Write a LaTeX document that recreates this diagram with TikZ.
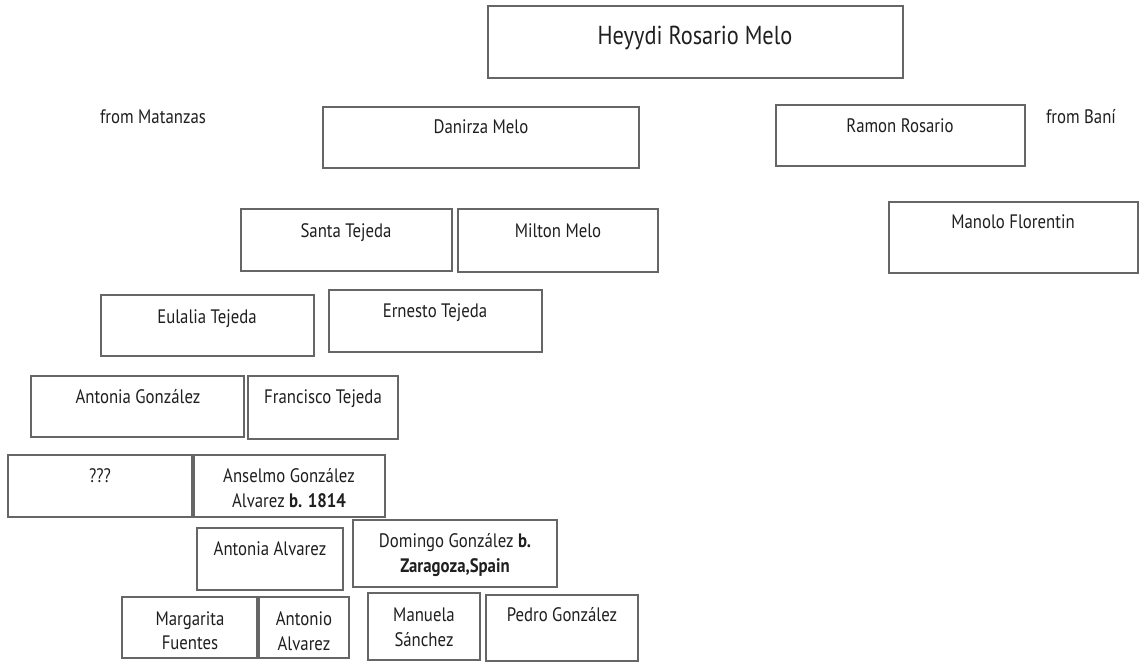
\documentclass[tikz,border=0pt]{standalone}
\usepackage{fontspec}
\setmainfont{PT Sans}[FakeStretch=0.86]
\usetikzlibrary{fit}

% pbox{name}{x1}{y1}{x2}{y2}: a framed family-tree box between two corners (pixel units)
\newcommand\pbox[5]{%
  \node[personbox, fit={(#2,#3)(#4,#5)}] (#1) {};}
% plabel{name}{x}{baseline}{text}: a line of text inside a box
\newcommand\plabel[4]{%
  \node[namelabel] (#1) at (#2,#3) {#4};}

\begin{document}
\begin{tikzpicture}[x=1pt, y=-1pt,
  personbox/.style={draw=black!60, line width=1.4pt, inner sep=0pt},
  namelabel/.style={anchor=base, inner sep=0pt, text=black!88,
    font=\fontsize{19.5}{22}\selectfont},
  titlelabel/.style={anchor=base, inner sep=0pt, text=black!88,
    font=\fontsize{26}{30}\selectfont}]
  \useasboundingbox[fill=white] (0,0) rectangle (1141,662);

  % root
  \pbox{heyydi}{488}{6}{903}{78}
  \node[titlelabel] (heyydi-t) at (695,44) {Heyydi Rosario Melo};

  % place notes
  \plabel{matanzas}{153}{123}{from Matanzas}
  \plabel{bani}{1081}{123}{from Baní}

  % parents
  \pbox{danirza}{323}{107}{639}{168}
  \plabel{danirza-t}{481}{133}{Danirza Melo}
  \pbox{ramon}{776}{105}{1025}{166}
  \plabel{ramon-t}{900}{132}{Ramon Rosario}

  % grandparents
  \pbox{santa}{241}{209}{452}{271}
  \plabel{santa-t}{346}{237}{Santa Tejeda}
  \pbox{milton}{458}{209}{658}{272}
  \plabel{milton-t}{558}{237}{Milton Melo}
  \pbox{manolo}{889}{202}{1138}{273}
  \plabel{manolo-t}{1013}{228}{Manolo Florentin}

  % great-grandparents
  \pbox{eulalia}{101}{295}{314}{356}
  \plabel{eulalia-t}{207}{323}{Eulalia Tejeda}
  \pbox{ernesto}{329}{290}{542}{352}
  \plabel{ernesto-t}{435}{317}{Ernesto Tejeda}

  \pbox{antoniag}{31}{376}{244}{437}
  \plabel{antoniag-t}{138}{403}{Antonia González}
  \pbox{francisco}{248}{376}{398}{439}
  \plabel{francisco-t}{323}{403}{Francisco Tejeda}

  \pbox{unknown}{8}{455}{192}{517}
  \plabel{unknown-t}{100}{482}{???}
  \pbox{anselmo}{194}{455}{385}{517}
  \plabel{anselmo-t1}{289}{482}{Anselmo González}
  \plabel{anselmo-t2}{289}{507}{Alvarez \textbf{b. 1814}}

  \pbox{antoniaa}{197}{528}{343}{590}
  \plabel{antoniaa-t}{270}{555}{Antonia Alvarez}
  \pbox{domingo}{353}{520}{557}{587}
  \plabel{domingo-t1}{455}{547}{Domingo González \textbf{b.}}
  \plabel{domingo-t2}{455}{572}{\textbf{Zaragoza,Spain}}

  \pbox{margarita}{122}{597}{257}{658}
  \plabel{margarita-t1}{190}{625}{Margarita}
  \plabel{margarita-t2}{190}{649}{Fuentes}
  \pbox{antonio}{259}{597}{349}{658}
  \plabel{antonio-t1}{304}{625}{Antonio}
  \plabel{antonio-t2}{304}{650}{Alvarez}
  \pbox{manuela}{368}{593}{480}{660}
  \plabel{manuela-t1}{424}{621}{Manuela}
  \plabel{manuela-t2}{424}{646}{Sánchez}
  \pbox{pedro}{486}{595}{638}{661}
  \plabel{pedro-t}{562}{621}{Pedro González}
\end{tikzpicture}
\end{document}
